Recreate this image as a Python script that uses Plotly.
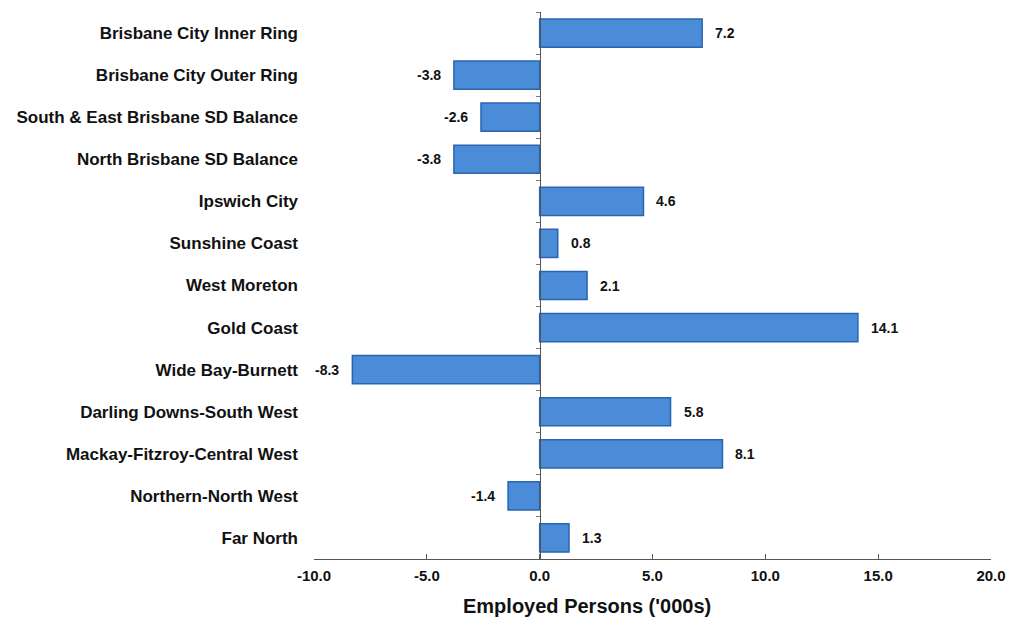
import plotly.graph_objects as go

categories = [
    "Brisbane City Inner Ring",
    "Brisbane City Outer Ring",
    "South & East Brisbane SD Balance",
    "North Brisbane SD Balance",
    "Ipswich City",
    "Sunshine Coast",
    "West Moreton",
    "Gold Coast",
    "Wide Bay-Burnett",
    "Darling Downs-South West",
    "Mackay-Fitzroy-Central West",
    "Northern-North West",
    "Far North",
]
values = [7.2, -3.8, -2.6, -3.8, 4.6, 0.8, 2.1, 14.1, -8.3, 5.8, 8.1, -1.4, 1.3]
x_ticks = [-10, -5, 0, 5, 10, 15, 20]
x_tick_text = ["-10.0", "-5.0", "0.0", "5.0", "10.0", "15.0", "20.0"]
x_range = [-10, 20]

FONT = "Liberation Sans, Arial, sans-serif"

fig = go.Figure()
fig.add_trace(go.Bar(
    y=categories, x=values, orientation="h",
    marker=dict(color="#4a8cd8", line=dict(color="#2a64b0", width=1.5)),
    width=0.67, hoverinfo="skip", showlegend=False,
))
# invisible trace to carry the zero-positioned category axis (line + boundary ticks)
fig.add_trace(go.Scatter(
    y=categories, x=[0] * len(categories), yaxis="y2", mode="markers",
    marker=dict(opacity=0), hoverinfo="skip", showlegend=False,
))

for c, v in zip(categories, values):
    fig.add_annotation(
        x=v, y=c, xref="x", yref="y", text=f"{v:.1f}", showarrow=False,
        xanchor="left" if v >= 0 else "right", xshift=11 if v >= 0 else -11,
        font=dict(family=FONT, size=14, color="#111111", weight="bold"),
    )

fig.add_annotation(
    x=2.1, xref="x", y=-0.062, yref="paper", yanchor="top",
    text="Employed Persons ('000s)", showarrow=False,
    font=dict(family=FONT, size=20, color="#111111", weight="bold"),
)

n = len(categories)
zero_pos = (0 - x_range[0]) / (x_range[1] - x_range[0])

fig.update_layout(
    width=1018, height=620,
    margin=dict(l=314, r=20, t=12, b=61),
    paper_bgcolor="white", plot_bgcolor="white",
    font=dict(family=FONT, color="#111111"),
    bargap=0.33,
    xaxis=dict(
        range=x_range, tickvals=x_ticks, ticktext=x_tick_text,
        showgrid=False, zeroline=False,
        showline=True, linecolor="#555555", linewidth=1,
        ticks="inside", ticklen=5, tickcolor="#555555",
        ticklabelstandoff=3,
        tickfont=dict(family=FONT, size=15, color="#111111", weight="bold"),
    ),
    yaxis=dict(
        type="category", range=[n - 0.5, -0.5],
        showgrid=False, zeroline=False, showline=False, ticks="",
        ticklabelstandoff=15,
        tickfont=dict(family=FONT, size=17, color="#111111", weight="bold"),
    ),
    yaxis2=dict(
        type="category", range=[n - 0.5, -0.5], overlaying="y",
        anchor="free", position=zero_pos, side="left",
        showgrid=False, zeroline=False, showline=True,
        linecolor="#555555", linewidth=1,
        ticks="outside", ticklen=4, tickcolor="#777777",
        tickson="boundaries", showticklabels=False,
    ),
)

fig.write_html("out.html")
